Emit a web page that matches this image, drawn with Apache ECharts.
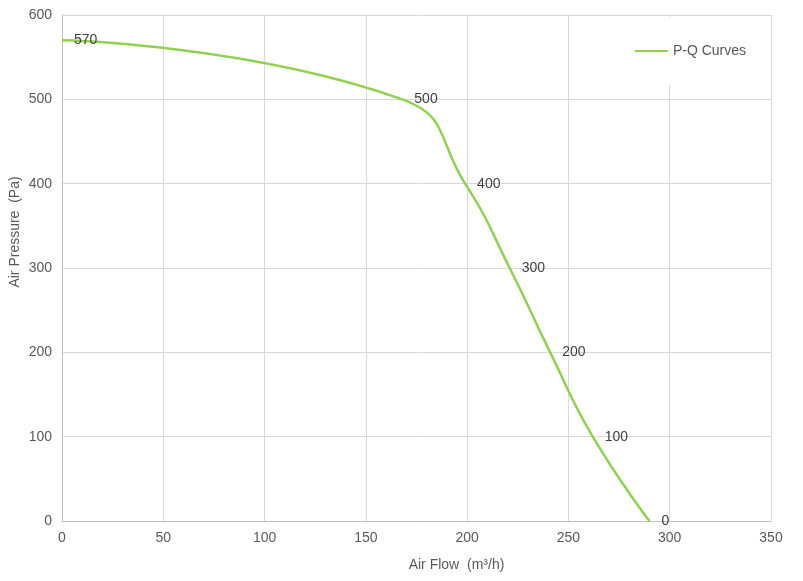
<!DOCTYPE html>
<html>
<head>
<meta charset="utf-8">
<script src="https://cdn.jsdelivr.net/npm/echarts@6/dist/echarts.min.js"></script>
<style>
  html, body { margin: 0; padding: 0; background: #fff; }
  #main { width: 803px; height: 581px; }
</style>
</head>
<body>
<div id="main"></div>
<script>
// P-Q curve points (air flow m³/h, pressure Pa)
var airFlow = [0, 168, 199, 221, 241, 262, 290];
var pressure = [570, 500, 400, 300, 200, 100, 0];
var seriesName = 'P-Q Curves';

var points = [];
for (var i = 0; i < airFlow.length; i++) {
  points.push([airFlow[i], pressure[i]]);
}

var chart = echarts.init(document.getElementById('main'));
var font = 'Liberation Sans, Arial, sans-serif';

var option = {
  animation: false,
  textStyle: { fontFamily: font },
  grid: { left: 62, right: 32, top: 15, bottom: 60, outerBoundsMode: 'none', containLabel: false },
  legend: {
    right: 47,
    top: 17,
    backgroundColor: '#fff',
    padding: [27, 10, 27, 8],
    itemWidth: 33,
    itemHeight: 14,
    itemGap: 4,
    icon: 'path://M0,6 L33,6 L33,8 L0,8 Z',
    textStyle: { color: '#595959', fontSize: 14, fontFamily: font },
    data: [seriesName]
  },
  xAxis: {
    type: 'value',
    min: 0,
    max: 350,
    interval: 50,
    name: 'Air Flow  (m³/h)',
    nameLocation: 'middle',
    nameGap: 37,
    nameMoveOverlap: false,
    nameTextStyle: { color: '#595959', fontSize: 14, padding: [0, 0, 0, 80] },
    axisLine: { show: true, lineStyle: { color: '#bfbfbf' } },
    axisTick: { show: false },
    axisLabel: { color: '#595959', fontSize: 14, margin: 10 },
    splitLine: { show: true, lineStyle: { color: '#d9d9d9' } }
  },
  yAxis: {
    type: 'value',
    min: 0,
    max: 600,
    interval: 100,
    name: 'Air Pressure  (Pa)',
    nameLocation: 'middle',
    nameGap: 40,
    nameMoveOverlap: false,
    nameTextStyle: { color: '#595959', fontSize: 14, padding: [0, 0, 0, 72] },
    axisLine: { show: true, lineStyle: { color: '#bfbfbf' } },
    axisTick: { show: false },
    axisLabel: { color: '#595959', fontSize: 14, margin: 10 },
    splitLine: { show: true, lineStyle: { color: '#d9d9d9' } }
  },
  series: [
    {
      name: seriesName,
      type: 'line',
      smooth: 0.5,
      symbol: 'circle',
      symbolSize: 0,
      showSymbol: true,
      data: points,
      lineStyle: { color: '#92d050', width: 2.5 },
      itemStyle: { color: '#92d050' },
      label: {
        show: true,
        position: 'right',
        distance: 12,
        color: '#404040',
        fontSize: 14,
        formatter: function (p) { return p.value[1]; }
      },
      labelLayout: { hideOverlap: false },
      z: 3
    }
  ]
};

chart.setOption(option);
</script>
</body>
</html>
